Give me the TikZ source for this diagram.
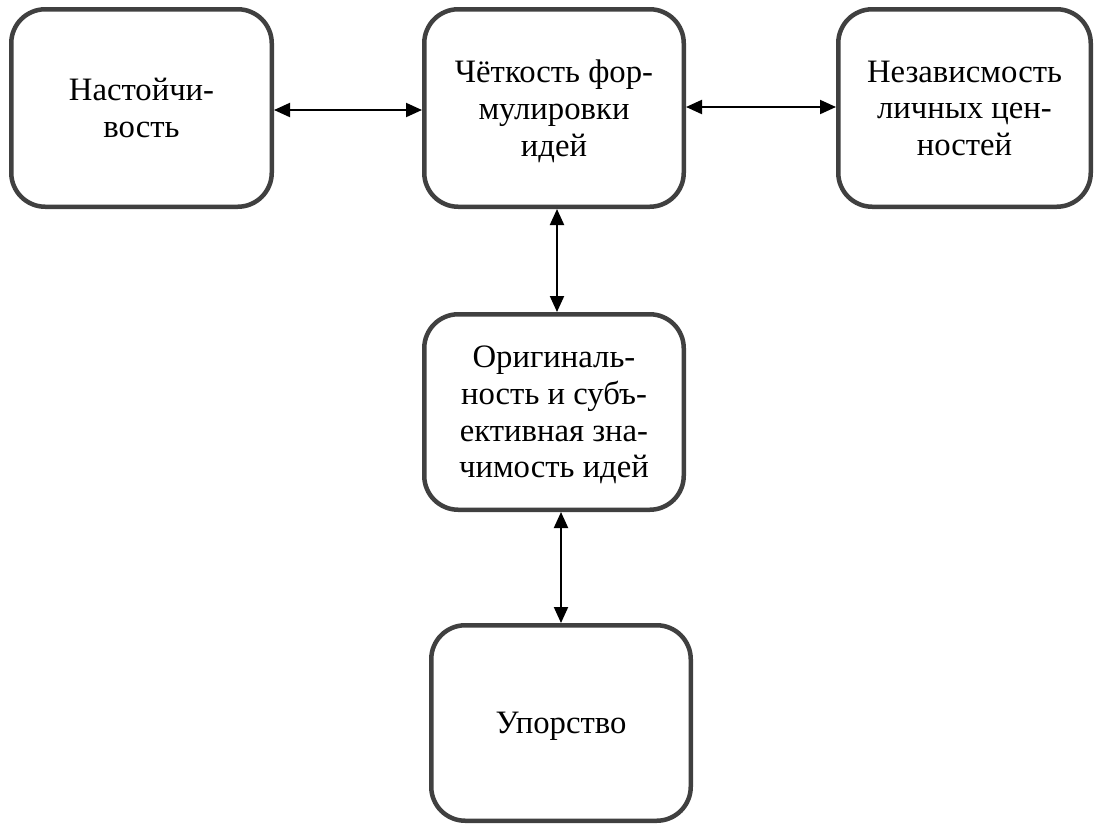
\documentclass[tikz,border=0pt]{standalone}
\usepackage{fontspec}
\setmainfont{Liberation Serif}
\usetikzlibrary{arrows.meta}
\definecolor{boxgray}{HTML}{404040}
\tikzset{
  box/.style={draw=boxgray, line width=4.5pt, rounded corners=34pt, fill=white,
    align=center, inner sep=0pt, text depth=-3pt, font=\fontsize{32.7}{36.7}\selectfont},
  link/.style={line width=2pt, {Triangle[length=16pt,width=14pt]}-{Triangle[length=16pt,width=14pt]}}
}
\begin{document}
\begin{tikzpicture}[x=1pt,y=1pt]
\useasboundingbox[fill=white] (0,0) rectangle (1095,-823);
\node[box, minimum width=260.5pt, minimum height=197.5pt] (b1) at (141.5,-108) {Настойчи-\\вость};
\node[box, minimum width=259.5pt, minimum height=197.5pt] (b2) at (554,-108) {Чёткость фор-\\мулировки\\идей};
\node[box, minimum width=252.5pt, minimum height=197.5pt] (b3) at (964.5,-108) {Независмость\\личных цен-\\ностей};
\node[box, minimum width=259.5pt, minimum height=195.5pt] (b4) at (554,-412) {Оригиналь-\\ность и субъ-\\ективная зна-\\чимость идей};
\node[box, minimum width=259.5pt, minimum height=195.5pt] (b5) at (561,-723) {Упорство};
\draw[link] ([yshift=-2pt]b1.east) -- ([yshift=-2pt]b1.east -| b2.west);
\draw[link] ([yshift=1pt]b2.east) -- ([yshift=1pt]b2.east -| b3.west);
\draw[link] ([xshift=3pt]b2.south) -- ([xshift=3pt]b4.north);
\draw[link] (b5.north |- b4.south) -- (b5.north);
\end{tikzpicture}
\end{document}
